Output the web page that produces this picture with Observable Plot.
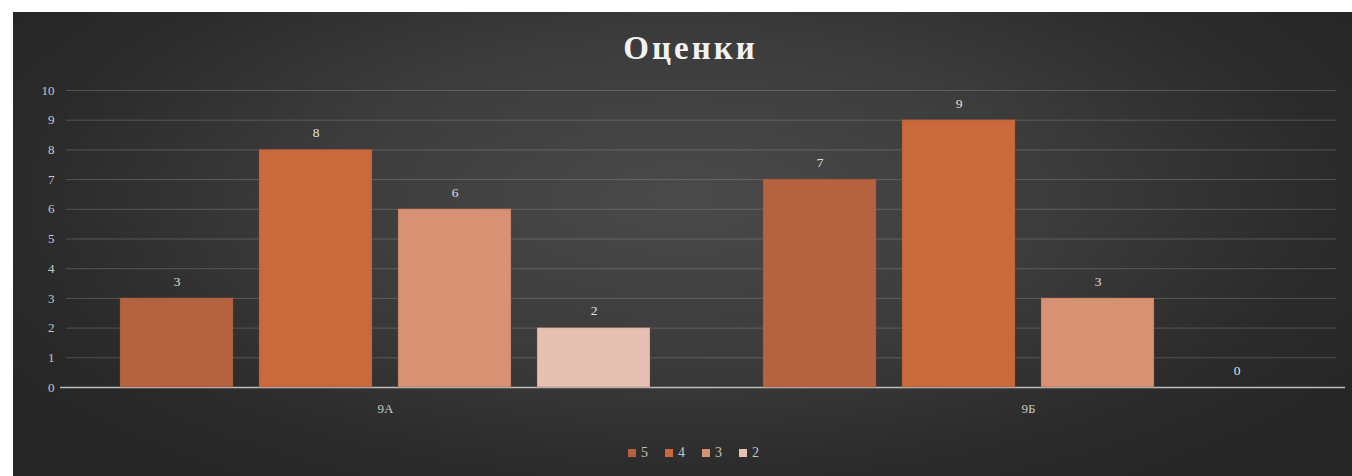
<!DOCTYPE html>
<html><head><meta charset="utf-8">
<script src="https://cdn.jsdelivr.net/npm/d3@7"></script>
<script src="https://cdn.jsdelivr.net/npm/@observablehq/plot@0.6"></script>
<style>
html,body{margin:0;padding:0;background:#fff;width:1352px;height:476px;overflow:hidden;}
#panel{position:absolute;left:13px;top:12px;width:1339px;height:464px;
  background:radial-gradient(ellipse 60% 75% at 50% 40%, #4a4a4a 0%, #3c3c3c 45%, #2b2b2b 80%, #262626 100%);
  font-family:"Liberation Serif",serif;overflow:hidden;}
#title{position:absolute;left:0;width:100%;box-sizing:border-box;padding-left:16px;top:18px;text-align:center;color:#f2f2f2;font-size:33px;font-weight:bold;letter-spacing:3px;line-height:36px;}
#chart{position:absolute;left:0;top:68px;width:1339px;height:352px;}
#chart svg{position:absolute;left:0;top:0;}
#legend{position:absolute;top:432px;left:0;width:1339px;display:flex;justify-content:center;gap:17px;padding-left:22px;box-sizing:border-box;color:#c4c4c4;font-size:14px;line-height:18px;}
.item{display:flex;align-items:center;gap:5px;}
.sw{width:8px;height:8px;display:inline-block;}
</style>
</head><body>
<div id="panel">
  <div id="title">Оценки</div>
  <div id="chart"></div>
  <div id="legend"></div>
</div>
<script>
const groups = ["9А", "9Б"];
const grades = ["5", "4", "3", "2"];
const values9A = [3, 8, 6, 2];
const values9B = [7, 9, 3, 0];
const gradeColors = ["#b5633e", "#c9693c", "#d79274", "#e6c1b3"];
const yTicks = [0, 1, 2, 3, 4, 5, 6, 7, 8, 9, 10];

const rows = [];
grades.forEach((g, i) => rows.push({group: groups[0], grade: g, value: values9A[i]}));
grades.forEach((g, i) => rows.push({group: groups[1], grade: g, value: values9B[i]}));

const W = 1339, H = 352;
const common = {
  width: W, height: H,
  marginLeft: 53, marginTop: 10, marginBottom: 45,
  style: {background: "transparent", color: "#c8c8c8", fontFamily: "Liberation Serif, serif", fontSize: "13px"}
};

const gridPlot = Plot.plot({
  ...common,
  marginRight: 16,
  x: {domain: [0, 1], axis: null},
  y: {domain: [0, 10], ticks: yTicks, tickSize: 0, tickPadding: 12, label: null, tickFormat: d => String(d)},
  marks: [
    Plot.ruleY(yTicks.filter(d => d > 0), {stroke: "#a0a0a0", strokeOpacity: 0.35, strokeWidth: 1}),
    Plot.ruleY([0], {stroke: "#bdbdbd", strokeWidth: 1.5, insetLeft: -6, insetRight: -9})
  ]
});

const barPlot = Plot.plot({
  ...common,
  marginRight: 5,
  fx: {domain: groups, paddingInner: 0.176, paddingOuter: 0.084, label: null, tickSize: 0, tickPadding: 16, axis: "bottom"},
  x: {domain: grades, paddingInner: 0.19, paddingOuter: 0, axis: null},
  y: {domain: [0, 10], axis: null},
  color: {domain: grades, range: gradeColors},
  marks: [
    Plot.barY(rows, {fx: "group", x: "grade", y: "value", fill: "grade", stroke: "#8a4a2e", strokeOpacity: 0.35}),
    Plot.text(rows, {fx: "group", x: "grade", y: "value", text: d => String(d.value), dy: -17, fill: "#e0e0e0", fontSize: 13.5})
  ]
});

const chart = document.getElementById("chart");
chart.appendChild(gridPlot);
chart.appendChild(barPlot);

const legend = document.getElementById("legend");
grades.forEach((g, i) => {
  const it = document.createElement("span");
  it.className = "item";
  const sw = document.createElement("span");
  sw.className = "sw";
  sw.style.background = gradeColors[i];
  const t = document.createElement("span");
  t.textContent = g;
  it.appendChild(sw); it.appendChild(t);
  legend.appendChild(it);
});
</script>
</body></html>
